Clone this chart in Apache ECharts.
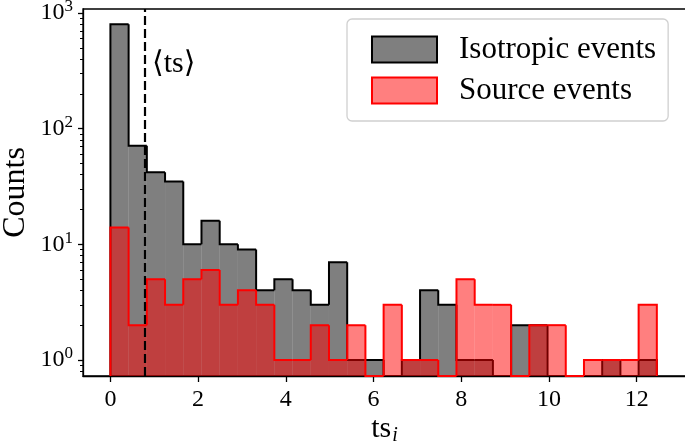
<!DOCTYPE html>
<html>
<head>
<meta charset="utf-8">
<script src="https://cdn.jsdelivr.net/npm/echarts@6/dist/echarts.min.js"></script>
<style>
html, body { margin: 0; padding: 0; background: #fff; }
#container { width: 685px; height: 446px; }
</style>
</head>
<body>
<div id="container"></div>
<script>
// histogram: 30 bins between 0 and 12.46
var binMin = 0;
var binMax = 12.46;
var nBins = 30;
var isoCounts = [800, 71, 42, 35, 10, 16, 10, 9, 4, 5,
                 4, 3, 7, 1, 1, 0, 1, 4, 3, 1,
                 1, 0, 2, 2, 0, 0, 0, 1, 0, 1];
var srcCounts = [14, 2, 5, 3, 5, 6, 3, 4, 3, 1,
                 1, 2, 1, 2, 0, 3, 1, 1, 0, 5,
                 3, 3, 0, 2, 2, 0, 1, 1, 1, 3];
var meanTs = 0.79;
var xTicks = [0, 2, 4, 6, 8, 10, 12];
var yMajor = [1, 10, 100, 1000];
var yMinor = [0.8, 0.9, 2, 3, 4, 5, 6, 7, 8, 9, 20, 30, 40, 50, 60, 70, 80, 90,
              200, 300, 400, 500, 600, 700, 800, 900];

var serif = "'Liberation Serif', 'DejaVu Serif', serif";

function binData(counts) {
	var w = (binMax - binMin) / nBins, out = [];
	for (var i = 0; i < counts.length; i++) {
		out.push([binMin + i * w, binMin + (i + 1) * w, counts[i], i > 0 ? counts[i - 1] : 0, i === counts.length - 1 ? 1 : 0]);
	}
	return out;
}

function histRender(fill, stroke) {
	return function (params, api) {
		var cs = params.coordSys;
		var base = cs.y + cs.height;
		var x0 = api.value(0), x1 = api.value(1), c = api.value(2), prev = api.value(3), last = api.value(4);
		var py = function (v) { return v > 0 ? api.coord([x0, v])[1] : base; };
		var px0 = api.coord([x0, 1])[0], px1 = api.coord([x1, 1])[0];
		var yc = py(c), yp = py(prev);
		var pts = [[px0, yp], [px0, yc], [px1, yc]];
		if (last) pts.push([px1, base]);
		var children = [];
		if (c > 0) {
			children.push({ type: 'rect', z2: 1, shape: { x: px0, y: yc, width: px1 - px0, height: base - yc }, style: { fill: fill } });
		}
		children.push({ type: 'polyline', z2: 10, shape: { points: pts }, style: { stroke: stroke, lineWidth: 2, fill: null } });
		return { type: 'group', children: children };
	};
}

var chart = echarts.init(document.getElementById('container'));
chart.setOption({
	animation: false,
	grid: {
		left: 83, top: 9, width: 603, height: 367, containLabel: false, outerBoundsMode: 'none',
		show: true, borderColor: '#000', borderWidth: 1.3
	},
	xAxis: {
		type: 'value', min: -0.625, max: 13.125,
		name: 'ts{sub|i}', nameLocation: 'middle', nameGap: 36, nameMoveOverlap: false,
		nameTextStyle: { fontFamily: serif, fontSize: 30, color: '#000', rich: { sub: { fontFamily: serif, fontStyle: 'italic', fontSize: 20, padding: [14, 0, 0, 1] } } },
		axisLine: { onZero: false, lineStyle: { color: '#000', width: 1.3 } },
		axisTick: { customValues: xTicks, length: 6, lineStyle: { color: '#000', width: 1.3 } },
		axisLabel: { customValues: xTicks, margin: 12, fontFamily: serif, fontSize: 24, color: '#000' },
		splitLine: { show: false }
	},
	yAxis: [{
		type: 'log', logBase: 10, min: 0.727, max: 1083, position: 'left',
		name: 'Counts', nameLocation: 'middle', nameRotate: 90, nameGap: 51, nameMoveOverlap: false,
		nameTextStyle: { fontFamily: serif, fontSize: 32, color: '#000' },
		axisLine: { onZero: false, lineStyle: { color: '#000', width: 1.3 } },
		axisTick: { customValues: yMajor, length: 5, lineStyle: { color: '#000', width: 1.3 } },
		axisLabel: {
			customValues: yMajor, margin: 10, fontFamily: serif, fontSize: 24, color: '#000',
			formatter: function (v) { return '10{sup|' + Math.round(Math.log10(v)) + '}'; },
			rich: { sup: { fontFamily: serif, fontSize: 17, verticalAlign: 'top', padding: [0, 0, 12, 0] } }
		},
		splitLine: { show: false }
	}, {
		type: 'log', logBase: 10, min: 0.727, max: 1083, position: 'left',
		axisLine: { show: false, onZero: false },
		axisTick: { customValues: yMinor, length: 3, lineStyle: { color: '#000', width: 1 } },
		axisLabel: { show: false },
		splitLine: { show: false }
	}],
	legend: {
		orient: 'vertical', left: 347, top: 19,
		padding: [15, 12, 15, 24], itemGap: 10,
		itemWidth: 65, itemHeight: 26,
		backgroundColor: '#fff', borderColor: '#d0d0d0', borderWidth: 1.3, borderRadius: 5,
		textStyle: { fontFamily: serif, fontSize: 31, lineHeight: 26, color: '#000', padding: [0, 0, 0, 17] },
		data: [
			{ name: 'Isotropic events', icon: 'rect', itemStyle: { color: 'rgba(0,0,0,0.5)', borderColor: '#000', borderWidth: 2 } },
			{ name: 'Source events', icon: 'rect', itemStyle: { color: 'rgba(255,0,0,0.5)', borderColor: '#f00', borderWidth: 2 } }
		]
	},
	graphic: [{
		type: 'text', left: 152, top: 49,
		style: { text: '\u27E8ts\u27E9', fontFamily: serif, fontSize: 30, fill: '#000' }
	}],
	series: [{
		type: 'custom', name: 'Isotropic events', z: 2,
		itemStyle: { color: 'rgba(0,0,0,0.5)', borderColor: '#000' },
		encode: { x: [0, 1], y: 2 },
		renderItem: histRender('rgba(0,0,0,0.5)', '#000'),
		data: binData(isoCounts)
	}, {
		type: 'custom', name: 'Source events', z: 3,
		itemStyle: { color: 'rgba(255,0,0,0.5)', borderColor: '#f00' },
		encode: { x: [0, 1], y: 2 },
		renderItem: histRender('rgba(255,0,0,0.5)', '#f00'),
		data: binData(srcCounts),
		markLine: {
			silent: true, symbol: 'none', label: { show: false },
			lineStyle: { color: '#000', width: 2.2, type: [9, 4] },
			data: [{ xAxis: meanTs }]
		}
	}]
});
</script>
</body>
</html>
